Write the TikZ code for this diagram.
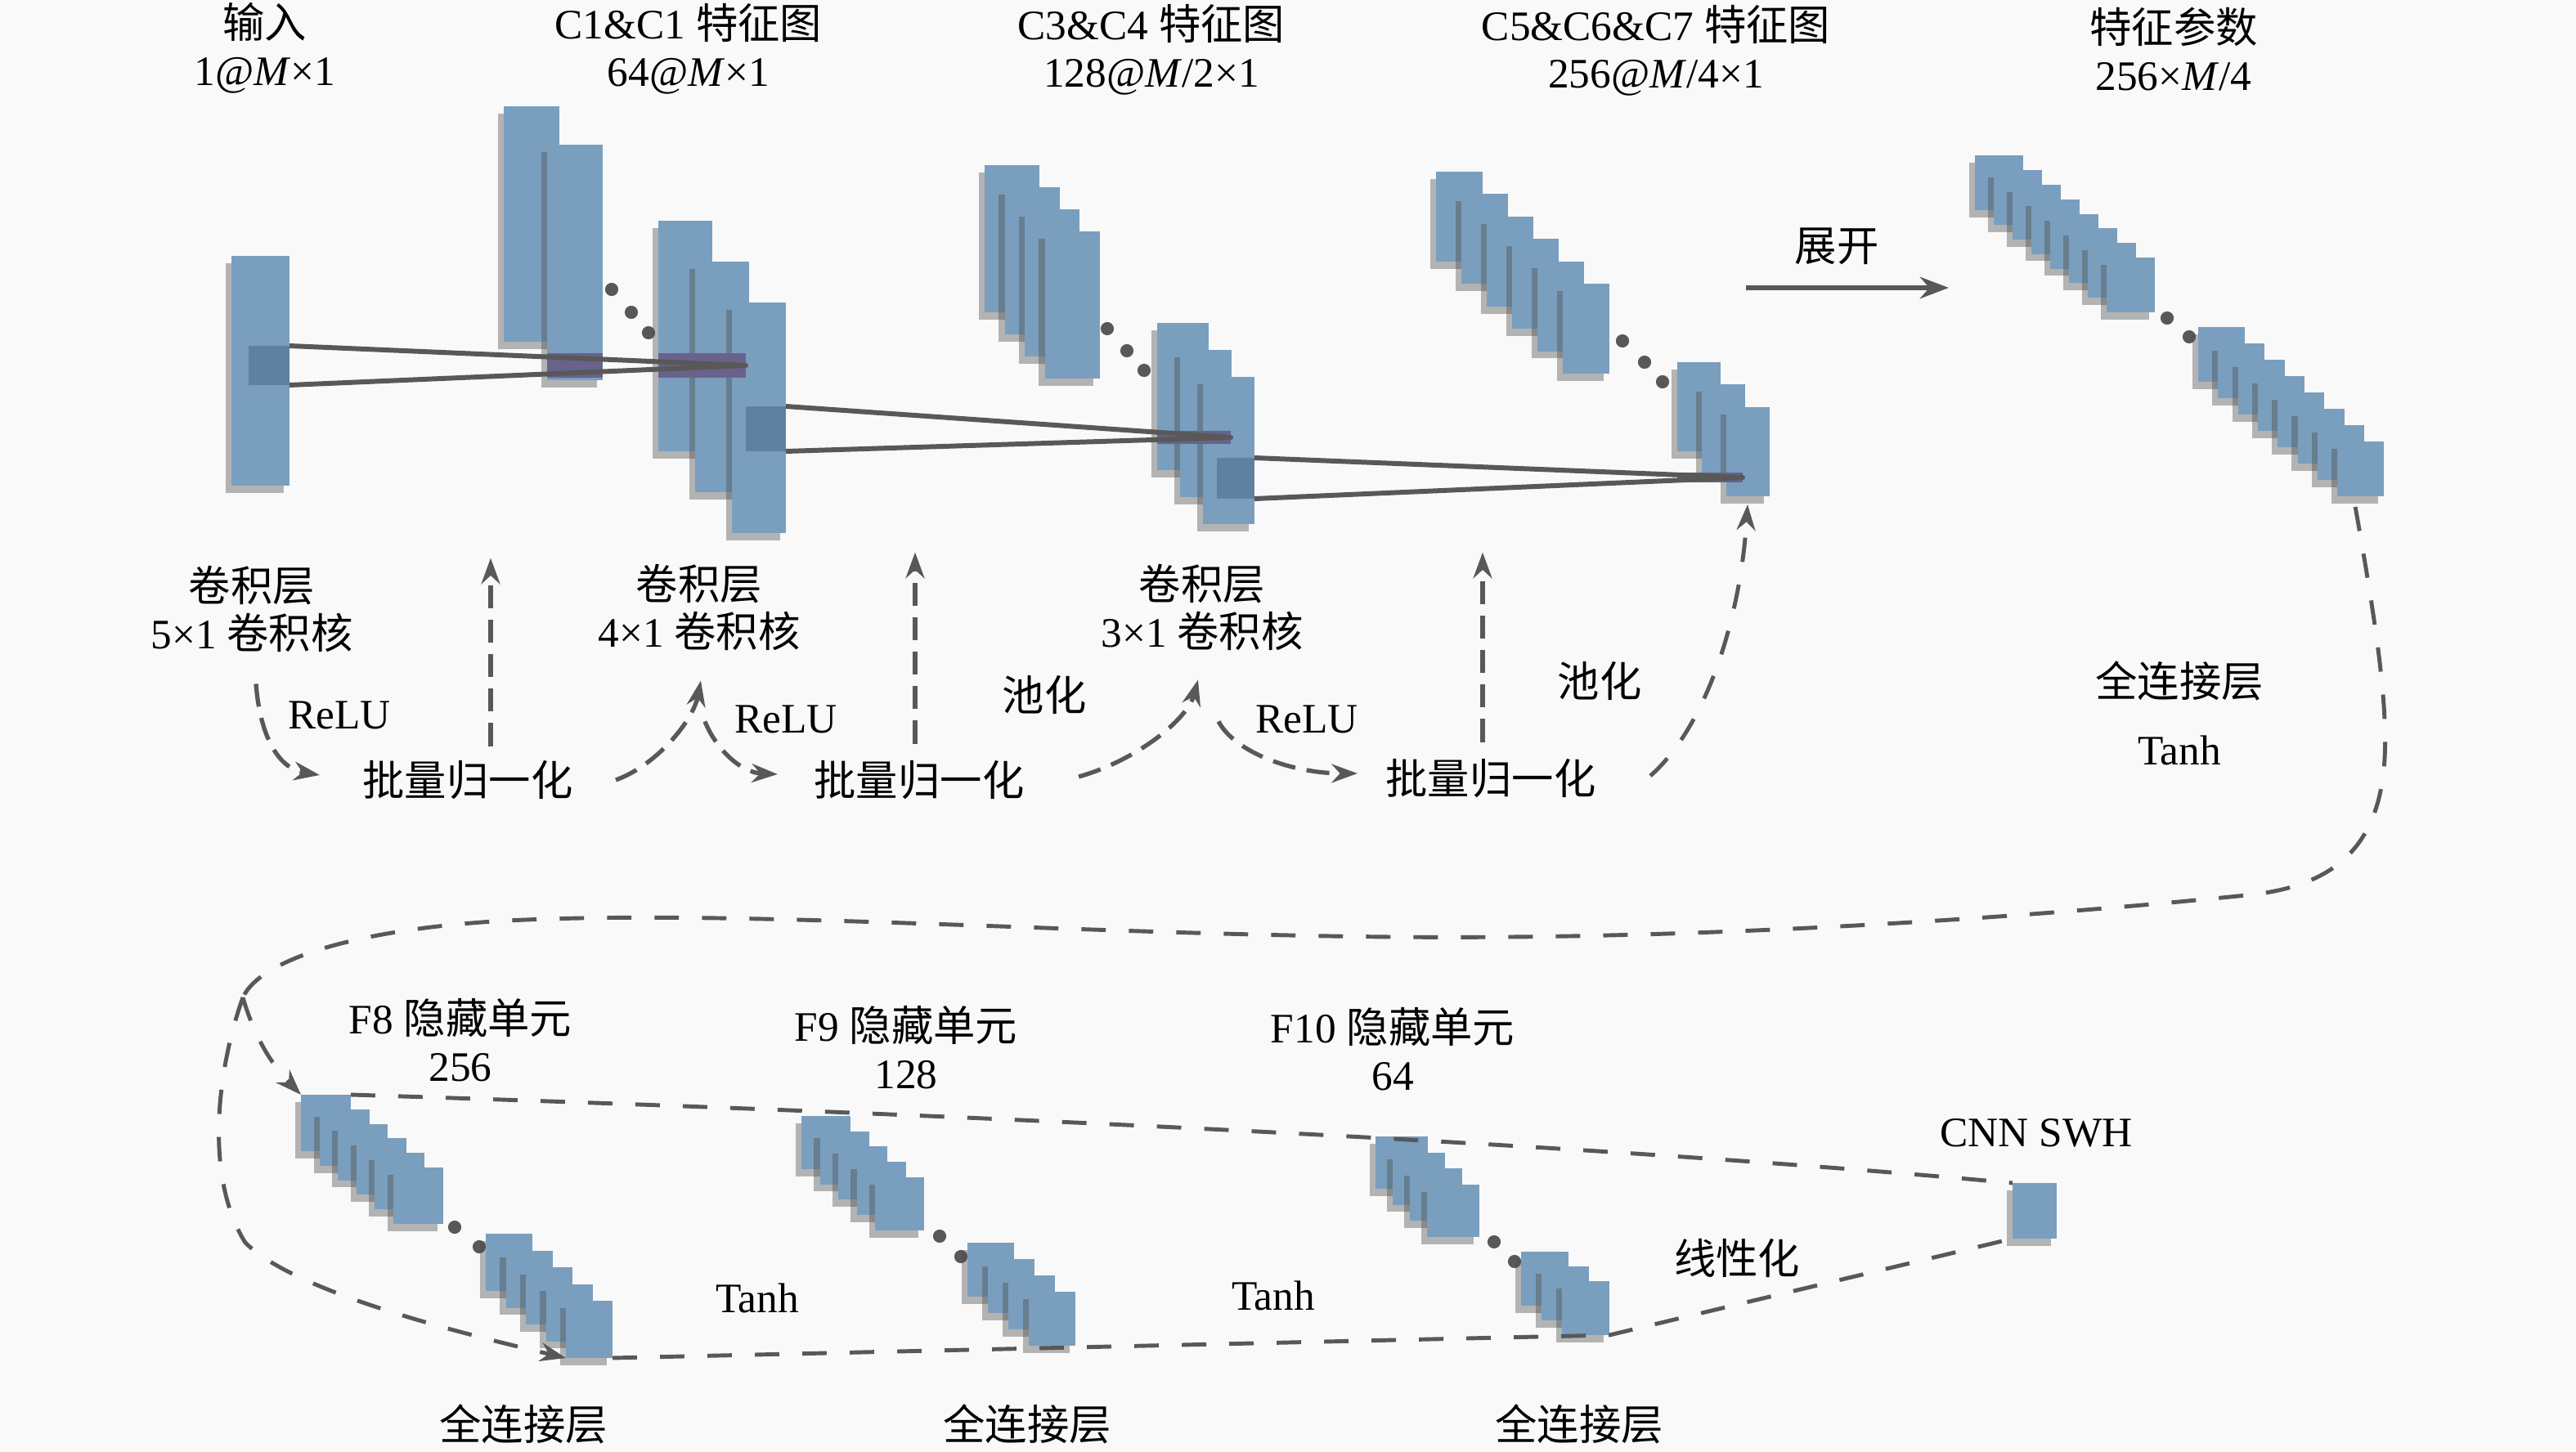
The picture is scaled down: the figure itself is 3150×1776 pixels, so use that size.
\documentclass[tikz,border=0pt]{standalone}
\usepackage{fontspec}
\setmainfont{Liberation Serif}
\newfontfamily\cjk{Noto Sans CJK SC}
\usetikzlibrary{arrows.meta,shadows,calc}

\definecolor{fmblue}{RGB}{122,158,190}
\definecolor{fmdark}{RGB}{96,128,160}
\definecolor{fmbar}{RGB}{104,98,140}
\definecolor{lngray}{RGB}{88,88,88}
\definecolor{bggray}{RGB}{249,249,249}

\tikzset{
  fmap/.style={fill=fmblue, drop shadow={shadow xshift=-2pt, shadow yshift=-2.5pt, opacity=.4, fill=black!70}},
  lbl/.style={inner sep=0pt, align=center, font=\fontsize{14.6}{16.5}\selectfont},
  kern/.style={draw=lngray, line width=1.7pt},
  flow/.style={draw=lngray, line width=1.5pt, dash pattern=on 8pt off 4pt},
  loop/.style={draw=lngray, line width=1.4pt, dash pattern=on 8.5pt off 8pt},
  dotc/.style={fill=lngray},
}

% name, x, y, width, height, dx, dy, count
\newcommand{\fmstack}[8]{%
  \foreach \i in {1,...,#8}{
    \fill[fmap] ({#2+(\i-1)*#6},{#3+(\i-1)*#7}) rectangle ++(#4,#5);
  }
  \coordinate (#1-nw) at (#2,#3);
  \coordinate (#1-ne) at ({#2+#4},#3);
  \coordinate (#1-sw) at ({#2+(#8-1)*#6},{#3+(#8-1)*#7+#5});
  \coordinate (#1-se) at ({#2+(#8-1)*#6+#4},{#3+(#8-1)*#7+#5});
}
\newcommand{\zh}[1]{{\cjk #1}}

\begin{document}
\begin{tikzpicture}[x=0.01cm, y=-0.01cm, line join=round, >={Stealth[length=9pt,width=6.5pt]}]
\useasboundingbox (0,0) rectangle (3150,1776);
\fill[bggray] (0,0) rectangle (3150,1776);

% feature maps, top row
\fmstack{in}{283}{313}{71}{281}{0}{0}{1}
\fmstack{c1}{616}{130}{68}{288}{53}{47}{2}
\foreach \p in {(748,354),(772,382),(793,407)} \fill[dotc] \p circle[radius=2.3pt];
\fmstack{c2}{805}{270}{66}{282}{45}{50}{3}
\fmstack{c3}{1204}{202}{67}{180}{24.5}{27}{4}
\foreach \p in {(1354,402),(1378,429),(1399,453)} \fill[dotc] \p circle[radius=2.3pt];
\fmstack{c4}{1415}{395}{63}{180}{28}{33}{3}
\fmstack{c5}{1756}{210}{57}{110}{31}{27.4}{6}
\foreach \p in {(1984,417),(2011,443),(2033,467)} \fill[dotc] \p circle[radius=2.3pt];
\fmstack{c7}{2051}{443}{53}{109}{30}{27.5}{3}
\fmstack{p1}{2415}{190}{59}{67}{23}{17.9}{8}
\foreach \p in {(2650,389),(2677,412)} \fill[dotc] \p circle[radius=2.3pt];
\fmstack{p2}{2688}{400}{57}{67}{24.3}{20}{8}

% kernels
\fill[fmdark] (304,423) rectangle (354,471);
\fill[fmdark] (912,497) rectangle (961,552);
\fill[fmdark] (1488,560) rectangle (1534,610);
\fill[fmbar] (669,432) rectangle (737,462);
\fill[fmbar] (805,432) rectangle (912,462);
\fill[fmbar] (1415,527) rectangle (1505,543);
\fill[fmbar] (2051,578) rectangle (2131,590);
\coordinate (k1a) at (354,423); \coordinate (k1b) at (354,471); \coordinate (k1p) at (912,447);
\coordinate (k2a) at (961,497); \coordinate (k2b) at (961,552); \coordinate (k2p) at (1505,535);
\coordinate (k3a) at (1534,560); \coordinate (k3b) at (1534,610); \coordinate (k3p) at (2131,584);
\draw[kern] (k1a) -- (k1p) -- (k1b);
\draw[kern] (k2a) -- (k2p) -- (k2b);
\draw[kern] (k3a) -- (k3p) -- (k3b);

% labels, top row
\node[lbl] (t0) at (324,59) {\zh{输入}\\1@\textit{M}×1};
\node[lbl] (t1) at (842,60) {C1\&C1 \zh{特征图}\\64@\textit{M}×1};
\node[lbl] (t2) at (1408,61) {C3\&C4 \zh{特征图}\\128@\textit{M}/2×1};
\node[lbl] (t3) at (2025,62) {C5\&C6\&C7 \zh{特征图}\\256@\textit{M}/4×1};
\node[lbl] (t4) at (2658,60) {\zh{特征参数}\\256×\textit{M}/4};
\node[lbl] (unf) at (2246,301) {\zh{展开}};
\coordinate (unf-s) at (2135,352); \coordinate (unf-e) at (2383,352);
\draw[->, draw=lngray, line width=1.8pt, >={Stealth[length=10pt,width=7.5pt]}] (unf-s) -- (unf-e);

% labels, middle row
\node[lbl] (k1) at (308,745) {\zh{卷积层}\\5×1 \zh{卷积核}};
\node[lbl] (k2) at (855,743) {\zh{卷积层}\\4×1 \zh{卷积核}};
\node[lbl] (k3) at (1470,743) {\zh{卷积层}\\3×1 \zh{卷积核}};
\node[lbl] (relu1) at (415,875) {ReLU};
\node[lbl] (relu2) at (961,880) {ReLU};
\node[lbl] (relu3) at (1598,880) {ReLU};
\node[lbl] (bn1) at (572,954) {\zh{批量归一化}};
\node[lbl] (bn2) at (1124,954) {\zh{批量归一化}};
\node[lbl] (bn3) at (1823,952) {\zh{批量归一化}};
\node[lbl] (pool1) at (1277,850) {\zh{池化}};
\node[lbl] (pool2) at (1956,833) {\zh{池化}};
\node[lbl] (fc0) at (2665,833) {\zh{全连接层}};
\node[lbl] (tanh0) at (2665,918) {Tanh};

\draw[flow,->] ($(k1.south)+(5,38)$) .. controls (318,900) and (340,940) .. ($(bn1.west)+(-52,-6)$);
\draw[flow,->] ($(bn1.east)+(52,0)$) .. controls (805,935) and (848,880) .. ($(k2.south)+(2,36)$);
\draw[flow,->] ($(k2.south)+(7,86)$) .. controls (875,915) and (905,945) .. ($(bn2.west)+(-44,-7)$);
\draw[flow,->] ($(bn2.east)+(66,-4)$) .. controls (1390,930) and (1452,880) .. ($(k3.south)+(-5,35)$);
\draw[flow,->] ($(k3.south)+(20,86)$) .. controls (1510,920) and (1580,946) .. ($(bn3.west)+(-34,-6)$);
\draw[loop,->] ($(bn3.east)+(66,-3)$) .. controls (2085,890) and (2128,760) .. ($(c7-sw)+(26,10)$);
\draw[flow,->] ($(bn1.north)+(28,-17)$) -- ($(bn1.north)+(28,-247)$);
\draw[flow,->] ($(bn2.north)+(-5,-20)$) -- ($(bn2.north)+(-5,-254)$);
\draw[flow,->] ($(bn3.north)+(-10,-20)$) -- ($(bn3.north)+(-10,-252)$);

% fully connected part
\fmstack{f8a}{368}{1339}{61}{69}{22.6}{17.8}{6}
\foreach \p in {(556,1501),(586,1525)} \fill[dotc] \p circle[radius=2.3pt];
\fmstack{f8b}{594}{1509}{57}{70}{24.5}{20.5}{5}
\fmstack{f9a}{980}{1365}{60}{65}{22.5}{18.7}{5}
\foreach \p in {(1149,1512),(1175,1537)} \fill[dotc] \p circle[radius=2.3pt];
\fmstack{f9b}{1183}{1520}{57}{66}{25}{20}{4}
\fmstack{f10a}{1682}{1390}{64}{64}{21}{19.7}{4}
\foreach \p in {(1827,1519),(1852,1543)} \fill[dotc] \p circle[radius=2.3pt];
\fmstack{f10b}{1860}{1531}{58}{66}{25}{18}{3}
\fmstack{swh}{2461}{1447}{54}{68}{0}{0}{1}

\node[lbl] (h8) at (563,1272) {F8 \zh{隐藏单元}\\256};
\node[lbl] (h9) at (1108,1281) {F9 \zh{隐藏单元}\\128};
\node[lbl] (h10) at (1703,1283) {F10 \zh{隐藏单元}\\64};
\node[lbl] (tanh1) at (926,1588) {Tanh};
\node[lbl] (tanh2) at (1557,1585) {Tanh};
\node[lbl] (lin) at (2124,1539) {\zh{线性化}};
\node[lbl] (fc1) at (640,1742) {\zh{全连接层}};
\node[lbl] (fc2) at (1256,1742) {\zh{全连接层}};
\node[lbl] (fc3) at (1931,1742) {\zh{全连接层}};
\node[lbl] (swhl) at (2490,1386) {CNN SWH};

\draw[loop] (f8a-ne) .. controls (1100,1360) and (1900,1395) .. (swh-nw);
\draw[loop] (f8b-se) -- (f10b-se) -- (swh-sw);

% loop from the parameters down to F8
\coordinate (jn) at (297,1220);
\draw[loop] ($(p2-se)+(-35,13)$) .. controls (2905,760) and (2922,870) .. (2915,941)
  .. controls (2905,1040) and (2850,1085) .. (2747,1095)
  .. controls (2500,1120) and (2100,1150) .. (1700,1146)
  .. controls (1300,1142) and (900,1112) .. (621,1126)
  .. controls (450,1135) and (320,1170) .. (jn);
\draw[loop,->] (jn) .. controls (310,1265) and (330,1300) .. (f8a-nw);
\draw[loop,->] (jn) .. controls (265,1310) and (250,1440) .. (300,1520)
  .. controls (360,1580) and (560,1630) .. (f8b-sw);
\end{tikzpicture}
\end{document}
